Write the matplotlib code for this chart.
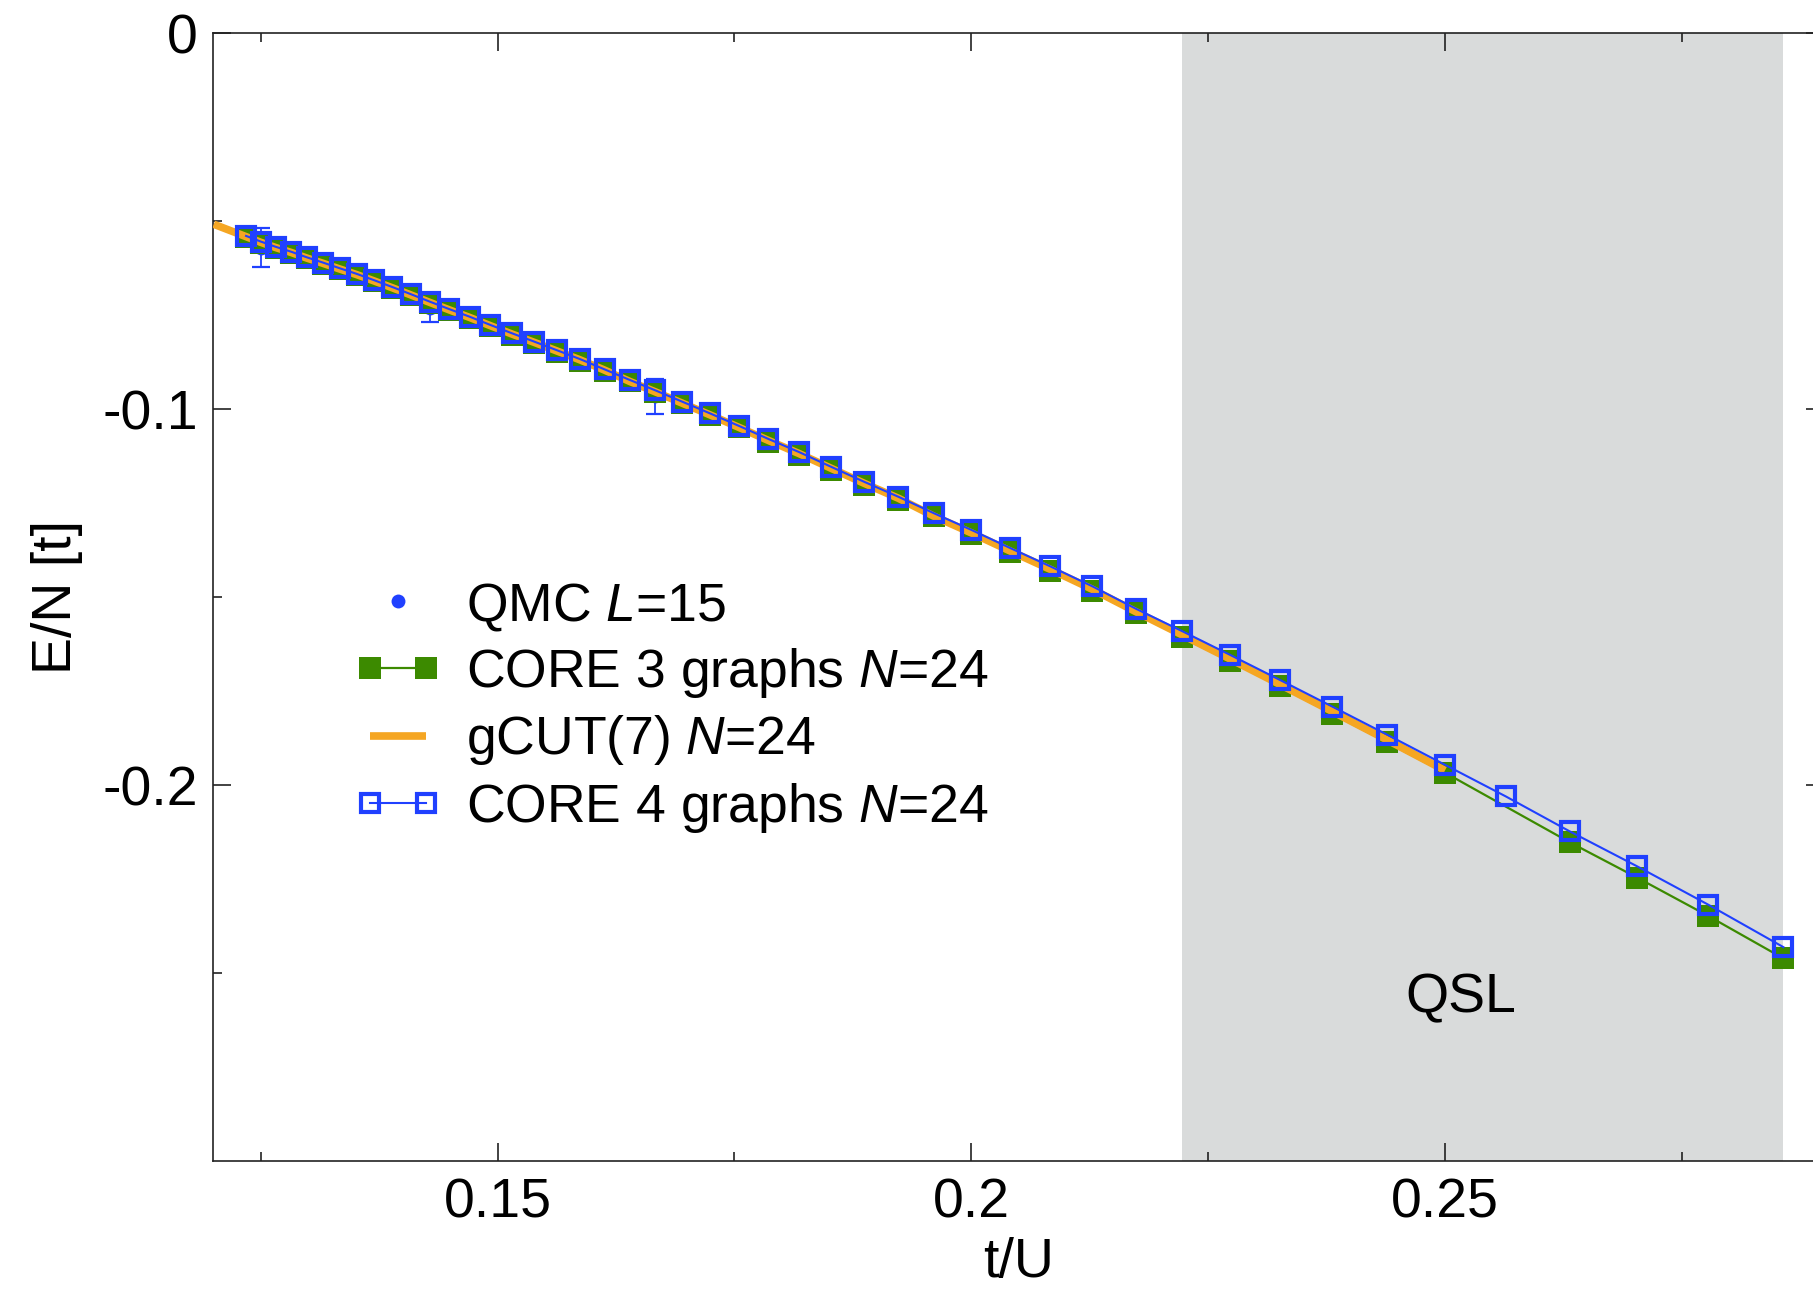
import matplotlib
matplotlib.use("Agg")
import numpy as np
import matplotlib.pyplot as plt
from matplotlib.legend_handler import HandlerLine2D
from matplotlib.ticker import FixedLocator, FixedFormatter

plt.rcParams["font.family"] = ["Liberation Sans", "DejaVu Sans"]
plt.rcParams["mathtext.fontset"] = "custom"
plt.rcParams["mathtext.it"] = "Liberation Sans:italic"
plt.rcParams["mathtext.rm"] = "Liberation Sans"
plt.rcParams["axes.unicode_minus"] = False

# ---- data -------------------------------------------------------------
# CORE 4 graphs, N=24 : U/t grid and energy per site
u_core4 = [8.1, 8.0, 7.9, 7.8, 7.7, 7.6, 7.5, 7.4, 7.3, 7.2, 7.1, 7.0,
           6.9, 6.8, 6.7, 6.6, 6.5, 6.4, 6.3, 6.2, 6.1, 6.0, 5.9, 5.8,
           5.7, 5.6, 5.5, 5.4, 5.3, 5.2, 5.1, 5.0, 4.9, 4.8, 4.7, 4.6,
           4.5, 4.4, 4.3, 4.2, 4.1, 4.0, 3.9, 3.8, 3.7, 3.6, 3.5]
e_core4 = [-0.0539, -0.0554, -0.0568, -0.0581, -0.0596, -0.0610, -0.0625,
           -0.0640, -0.0657, -0.0675, -0.0694, -0.0714, -0.0734, -0.0754,
           -0.0776, -0.0798, -0.0820, -0.0843, -0.0867, -0.0894, -0.0922,
           -0.0950, -0.0980, -0.1011, -0.1044, -0.1079, -0.1114, -0.1153,
           -0.1193, -0.1233, -0.1277, -0.1321, -0.1369, -0.1418, -0.1471,
           -0.1531, -0.1590, -0.1653, -0.1720, -0.1791, -0.1866, -0.1946,
           -0.2030, -0.2123, -0.2216, -0.2318, -0.2431]

# CORE 3 graphs, N=24 (no point at U/t = 3.9)
u_core3 = [8.1, 8.0, 7.9, 7.8, 7.7, 7.6, 7.5, 7.4, 7.3, 7.2, 7.1, 7.0,
           6.9, 6.8, 6.7, 6.6, 6.5, 6.4, 6.3, 6.2, 6.1, 6.0, 5.9, 5.8,
           5.7, 5.6, 5.5, 5.4, 5.3, 5.2, 5.1, 5.0, 4.9, 4.8, 4.7, 4.6,
           4.5, 4.4, 4.3, 4.2, 4.1, 4.0, 3.8, 3.7, 3.6, 3.5]
e_core3 = [-0.0542, -0.0557, -0.0571, -0.0584, -0.0599, -0.0613, -0.0628,
           -0.0643, -0.0660, -0.0678, -0.0697, -0.0717, -0.0737, -0.0757,
           -0.0779, -0.0802, -0.0824, -0.0847, -0.0871, -0.0898, -0.0926,
           -0.0954, -0.0984, -0.1015, -0.1048, -0.1087, -0.1122, -0.1161,
           -0.1201, -0.1241, -0.1285, -0.1333, -0.1381, -0.1430, -0.1483,
           -0.1543, -0.1606, -0.1669, -0.1737, -0.1810, -0.1886, -0.1967,
           -0.2152, -0.2246, -0.2348, -0.2461]

# gCUT(7), N=24
u_gcut = [8.33, 8.1, 8.0, 7.9, 7.8, 7.7, 7.6, 7.5, 7.4, 7.3, 7.2, 7.1,
          7.0, 6.9, 6.8, 6.7, 6.6, 6.5, 6.4, 6.3, 6.2, 6.1, 6.0, 5.9,
          5.8, 5.7, 5.6, 5.5, 5.4, 5.3, 5.2, 5.1, 5.0, 4.9, 4.8, 4.7,
          4.6, 4.5, 4.4, 4.3, 4.2, 4.1, 4.0]
e_gcut = [-0.0508, -0.0541, -0.0556, -0.0570, -0.0583, -0.0598, -0.0612,
          -0.0627, -0.0642, -0.0659, -0.0677, -0.0696, -0.0716, -0.0736,
          -0.0756, -0.0778, -0.0800, -0.0822, -0.0845, -0.0869, -0.0896,
          -0.0926, -0.0954, -0.0984, -0.1015, -0.1048, -0.1083, -0.1118,
          -0.1157, -0.1197, -0.1237, -0.1285, -0.1329, -0.1377, -0.1426,
          -0.1479, -0.1539, -0.1600, -0.1664, -0.1732, -0.1804, -0.1880,
          -0.1961]

# QMC, L=15
u_qmc = [8.0, 7.0, 6.0]
e_qmc = [-0.0570, -0.0730, -0.0966]
err_qmc = [0.0051, 0.0037, 0.0047]

# spin-liquid window in U/t
u_qsl = [4.5, 3.5]

x_ticks = [0.15, 0.2, 0.25]
x_ticklabels = ["0.15", "0.2", "0.25"]
x_minor = [0.125, 0.175, 0.225, 0.275]
y_ticks = [0.0, -0.1, -0.2]
y_ticklabels = ["0", "-0.1", "-0.2"]
y_minor = [-0.05, -0.15, -0.25]

# ---- style ------------------------------------------------------------
BLUE = "#2040ff"
GREEN = "#3c8a00"
ORANGE = "#f5a623"
SHADE = "#d9dbdb"
FS = 40

to_x = lambda u: 1.0 / np.asarray(u)

fig = plt.figure(figsize=(18.13, 12.90), dpi=100)
ax = fig.add_axes([0.11765, 0.1000, 0.8884, 0.8742])

ax.axvspan(to_x(u_qsl[0]), to_x(u_qsl[1]), color=SHADE, lw=0, zorder=0)

ax.errorbar(to_x(u_qmc), e_qmc, yerr=err_qmc, fmt="none", ecolor=BLUE,
            elinewidth=1.3, capsize=6.5, capthick=1.6, zorder=1.5)
qmc_line, = ax.plot(to_x(u_qmc), e_qmc, "o", color=BLUE, ms=10,
                    mew=0, zorder=1.6, label="QMC $L$=15")

core3_line, = ax.plot(to_x(u_core3), e_core3, "-s", color=GREEN, lw=1.6,
                      ms=16, mew=0, zorder=2,
                      label="CORE 3 graphs $N$=24")
gcut_line, = ax.plot(to_x(u_gcut), e_gcut, "-", color=ORANGE, lw=5.5,
                     solid_capstyle="butt", zorder=3,
                     label="gCUT(7) $N$=24")
core4_line, = ax.plot(to_x(u_core4), e_core4, "-s", color=BLUE, lw=1.5,
                      ms=13.5, mew=3, mfc="none", mec=BLUE, zorder=4,
                      label="CORE 4 graphs $N$=24")

ax.text(0.2517, -0.2567, "QSL", fontsize=FS, ha="center", va="center",
        zorder=5)

ax.set_xlim(0.12, 0.29)
ax.set_ylim(-0.3, 0.0)

ax.xaxis.set_major_locator(FixedLocator(x_ticks))
ax.xaxis.set_major_formatter(FixedFormatter(x_ticklabels))
ax.xaxis.set_minor_locator(FixedLocator(x_minor))
ax.yaxis.set_major_locator(FixedLocator(y_ticks))
ax.yaxis.set_major_formatter(FixedFormatter(y_ticklabels))
ax.yaxis.set_minor_locator(FixedLocator(y_minor))

ax.tick_params(which="both", direction="in", top=True, right=True,
               width=1.2, labelsize=FS, color="#222222")
ax.tick_params(which="major", length=13)
ax.tick_params(which="minor", length=6.5)
ax.tick_params(axis="x", which="major", pad=12)
ax.tick_params(axis="y", which="major", pad=11)
for s in ax.spines.values():
    s.set_linewidth(1.2)
    s.set_color("#222222")

ax.set_xlabel("t/U", fontsize=FS, labelpad=5)
ax.set_ylabel("E/N [t]", fontsize=FS, labelpad=14)

leg = ax.legend(handles=[qmc_line, core3_line, gcut_line, core4_line],
                loc="upper left", bbox_to_anchor=(0.0876, 0.5147),
                frameon=False, fontsize=38.5, numpoints=2,
                handlelength=1.63, handletextpad=0.45, labelspacing=0.25,
                borderpad=0, borderaxespad=0,
                handler_map={qmc_line: HandlerLine2D(numpoints=1)})

fig.savefig("out.png", dpi=100)
